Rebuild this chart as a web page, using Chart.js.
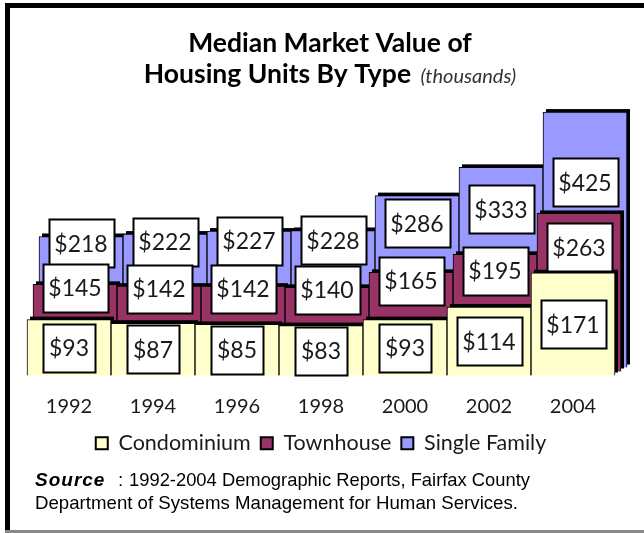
<!DOCTYPE html>
<html>
<head>
<meta charset="utf-8">
<title>Median Market Value of Housing Units By Type</title>
<script src="https://cdn.jsdelivr.net/npm/chart.js@4"></script>
<style>
  html, body { margin: 0; padding: 0; background: #fff; }
  canvas { display: block; }
</style>
</head>
<body>
<canvas id="chart" width="644" height="533"></canvas>
<script>
// values in thousands of dollars
const years = ["1992", "1994", "1996", "1998", "2000", "2002", "2004"];
const condominium = [93, 87, 85, 83, 93, 114, 171];
const townhouse = [145, 142, 142, 140, 165, 195, 263];
const singleFamily = [218, 222, 227, 228, 286, 333, 425];

const ink = "#1a1a1a";
const depth = { dx: 6, dy: 4, side: 3 }; // each row sits further back, bars get a dark side

// where the value box sits on each row: value axis position = lift + slope * value
const boxPlace = [
  { lift: 0, slope: 0.5 },
  { lift: 56, slope: 0.573 },
  { lift: 100, slope: 0.49 },
];

// frame, title and source note
const framePlugin = {
  id: "frame",
  beforeDraw(chart) {
    const ctx = chart.ctx;
    ctx.save();
    ctx.fillStyle = "#fff";
    ctx.fillRect(0, 0, chart.width, chart.height);
    ctx.fillStyle = "#000";
    ctx.fillRect(5, 3, 5, chart.height - 3);
    ctx.fillRect(5, 3, chart.width - 5, 5);
    ctx.fillStyle = "#8a8a8a";
    ctx.fillRect(5, chart.height - 3, chart.width - 5, 3);
    ctx.restore();
  },
  afterDraw(chart) {
    const ctx = chart.ctx;
    const cx = 330;
    ctx.save();
    ctx.fillStyle = "#000";
    ctx.textBaseline = "alphabetic";
    ctx.textAlign = "center";
    ctx.font = "bold 26.5px Lato";
    ctx.fillText("Median Market Value of", cx, 52);

    const main = "Housing Units By Type";
    const note = "  (thousands)";
    const w1 = ctx.measureText(main).width;
    ctx.font = "italic 20px Lato";
    const w2 = ctx.measureText(note).width;
    const start = cx - (w1 + w2) / 2;
    ctx.textAlign = "left";
    ctx.font = "bold 26.5px Lato";
    ctx.fillText(main, start, 83);
    ctx.font = "italic 20px Lato";
    ctx.fillStyle = "#333";
    ctx.fillText(note, start + w1, 83);

    ctx.fillStyle = "#000";
    ctx.letterSpacing = "1px";
    ctx.font = "italic bold 19px 'Liberation Sans'";
    ctx.fillText("Source", 35, 486);
    ctx.letterSpacing = "0px";
    ctx.font = "19px 'Liberation Sans'";
    ctx.fillText(":", 118, 486);
    ctx.fillText("1992-2004 Demographic Reports, Fairfax County", 129, 486, 401);
    ctx.fillText("Department of Systems Management for Human Services.", 35, 509, 483);
    ctx.restore();
  },
};

// shift each row back and paint the dark side of every bar before the bar itself
const depthPlugin = {
  id: "depth",
  beforeDatasetDraw(chart, args) {
    const ctx = chart.ctx;
    const i = args.index;
    ctx.save();
    ctx.translate(depth.dx * i, -depth.dy * i);
    ctx.fillStyle = "#000";
    args.meta.data.forEach((bar) => {
      const { x, y, base, width } = bar.getProps(["x", "y", "base", "width"], true);
      const top = Math.min(y, base);
      ctx.fillRect(x - width / 2 + depth.side, top - depth.side, width, Math.abs(base - y));
    });
  },
  afterDatasetDraw(chart) {
    chart.ctx.restore();
  },
  afterDatasetsDraw(chart) {
    const ctx = chart.ctx;
    const yScale = chart.scales.y;
    ctx.save();
    ctx.font = "23px Lato";
    ctx.textAlign = "center";
    ctx.textBaseline = "middle";
    for (let i = chart.data.datasets.length - 1; i >= 0; i--) {
      const ds = chart.data.datasets[i];
      const meta = chart.getDatasetMeta(i);
      const place = boxPlace[i];
      meta.data.forEach((bar, j) => {
        const v = ds.data[j];
        const text = "$" + v;
        const cx = bar.x + depth.dx * i;
        const cy = yScale.getPixelForValue(place.lift + place.slope * v) - depth.dy * i;
        const w = Math.round(ctx.measureText(text).width + 12);
        const h = 48;
        const left = Math.round(cx - w / 2) + 0.5;
        const top = Math.round(cy - h / 2) + 0.5;
        ctx.fillStyle = "#fff";
        ctx.fillRect(left, top, w, h);
        ctx.lineWidth = 2;
        ctx.strokeStyle = "#000";
        ctx.strokeRect(left, top, w, h);
        ctx.fillStyle = ink;
        ctx.fillText(text, cx, cy + 1);
      });
    }
    ctx.restore();
  },
};

const series = [
  { label: "Condominium", data: condominium, color: "#FFFFCC" },
  { label: "Townhouse", data: townhouse, color: "#993366" },
  { label: "Single Family", data: singleFamily, color: "#9999FF" },
];

new Chart(document.getElementById("chart"), {
  type: "bar",
  data: {
    labels: years,
    datasets: series.map((s) => ({
      label: s.label,
      data: s.data,
      backgroundColor: s.color,
      borderColor: "#000",
      borderWidth: 1,
      grouped: false,
      barPercentage: 1,
      categoryPercentage: 1,
      clip: false,
    })),
  },
  options: {
    responsive: false,
    animation: false,
    devicePixelRatio: 1,
    layout: { padding: { left: 27, right: 29, top: 75, bottom: 69 } },
    scales: {
      x: {
        grid: { display: false, drawTicks: false },
        border: { display: false },
        ticks: { color: ink, padding: 19, font: { family: "Lato", size: 20 } },
        afterFit(scale) { scale.height = 47; },
      },
      y: { display: false, min: 0, max: 500 },
    },
    plugins: {
      title: { display: false },
      tooltip: { enabled: false },
      legend: {
        position: "bottom",
        labels: {
          color: ink,
          boxWidth: 12,
          boxHeight: 12,
          padding: 10,
          font: { family: "Lato", size: 21.5 },
          generateLabels(chart) {
            const items = Chart.defaults.plugins.legend.labels.generateLabels(chart);
            items.forEach((it) => { it.lineWidth = 2; it.strokeStyle = "#000"; });
            return items;
          },
        },
      },
    },
  },
  plugins: [framePlugin, depthPlugin],
});
</script>
</body>
</html>
